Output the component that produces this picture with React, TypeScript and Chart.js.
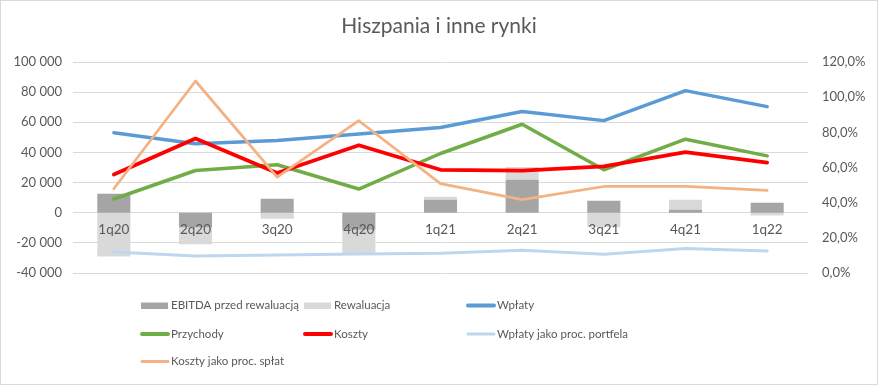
import { useEffect, useRef } from "react";
import { Chart, registerables } from "chart.js";

Chart.register(...registerables);

const categories = ["1q20", "2q20", "3q20", "4q20", "1q21", "2q21", "3q21", "4q21", "1q22"];
const ebitda = [12600, -9700, 9300, -11300, 8600, 21900, 7900, 2000, 6600];
const rewaluacja = [-29000, -11200, -4000, -15900, 2000, 8400, -9700, 6600, -1800];
const wplaty = [53000, 45700, 47900, 52300, 56500, 67100, 61100, 81000, 70400];
const przychody = [9100, 28000, 31800, 15700, 39300, 58700, 28500, 48800, 37700];
const koszty = [25400, 49200, 26300, 44800, 28500, 28000, 30700, 40200, 33300];
const wplatyProc = [11.9, 9.6, 10.2, 10.8, 11.3, 13.0, 10.6, 14.0, 12.5];
const kosztyProc = [47.9, 109.2, 54.5, 86.6, 50.8, 41.7, 49.2, 49.2, 47.0];

const leftTicks = { min: -40000, max: 100000, step: 20000 };
const rightTicks = { min: 0, max: 120, step: 20 };

const FONT = "Lato, 'Liberation Sans', sans-serif";
const TEXT = "#595959";

type LegendItem = { label: string; color: string; kind: "bar" | "line"; w: number; col: number; row: number };

const legendItems: LegendItem[] = [
  { label: "EBITDA przed rewaluacją", color: "#A5A5A5", kind: "bar", w: 6, col: 0, row: 0 },
  { label: "Rewaluacja", color: "#D9D9D9", kind: "bar", w: 6, col: 1, row: 0 },
  { label: "Wpłaty", color: "#5B9BD5", kind: "line", w: 4, col: 2, row: 0 },
  { label: "Przychody", color: "#70AD47", kind: "line", w: 4, col: 0, row: 1 },
  { label: "Koszty", color: "#FF0000", kind: "line", w: 4, col: 1, row: 1 },
  { label: "Wpłaty jako proc. portfela", color: "#BDD7EE", kind: "line", w: 3, col: 2, row: 1 },
  { label: "Koszty jako proc. spłat", color: "#F4B183", kind: "line", w: 3, col: 0, row: 2 },
];

function fmtThousands(v: number) {
  const s = Math.abs(v).toFixed(0).replace(/\B(?=(\d{3})+(?!\d))/g, " ");
  return (v < 0 ? "-" : "") + s;
}

const customPlugin = {
  id: "customDecor",
  afterDraw(chart: any) {
    const ctx = chart.ctx as CanvasRenderingContext2D;
    ctx.save();
    ctx.strokeStyle = "#D9D9D9";
    ctx.lineWidth = 1;
    ctx.strokeRect(0.5, 0.5, chart.width - 1, chart.height - 1);
    ctx.fillStyle = TEXT;
    ctx.font = `21px ${FONT}`;
    ctx.textAlign = "center";
    ctx.textBaseline = "middle";
    ctx.fillText("Hiszpania i inne rynki", 439, 26);
    const colX = [141, 304, 467];
    const rowY = [305.5, 334, 361.5];
    ctx.font = `11.5px ${FONT}`;
    ctx.textAlign = "left";
    for (const it of legendItems) {
      const x = colX[it.col];
      const y = rowY[it.row];
      if (it.kind === "bar") {
        ctx.fillStyle = it.color;
        ctx.fillRect(x, y - 3, 27, 6.5);
      } else {
        ctx.strokeStyle = it.color;
        ctx.lineWidth = it.w;
        ctx.lineCap = "round";
        ctx.beginPath();
        ctx.moveTo(x + 1, y);
        ctx.lineTo(x + 27, y);
        ctx.stroke();
      }
      ctx.fillStyle = TEXT;
      ctx.fillText(it.label, x + 30, y);
    }
    ctx.restore();
  },
};

export default function App() {
  const ref = useRef<HTMLCanvasElement | null>(null);
  useEffect(() => {
    document.body.style.margin = "0";
    const canvas = ref.current;
    if (!canvas) return;
    const lineDs = (label: string, data: number[], color: string, width: number, axis: string, order: number) => ({
      type: "line" as const,
      label,
      data,
      borderColor: color,
      backgroundColor: color,
      borderWidth: width,
      pointRadius: 0,
      pointHoverRadius: 0,
      tension: 0,
      fill: false,
      yAxisID: axis,
      order,
      borderCapStyle: "round" as const,
      borderJoinStyle: "round" as const,
    });
    const chart = new Chart(canvas, {
      type: "bar",
      data: {
        labels: categories,
        datasets: [
          {
            type: "bar",
            label: "EBITDA przed rewaluacją",
            data: ebitda,
            backgroundColor: "#A5A5A5",
            yAxisID: "yb",
            stack: "bars",
            order: 20,
            categoryPercentage: 1,
            barPercentage: 0.405,
          },
          {
            type: "bar",
            label: "Rewaluacja",
            data: rewaluacja,
            backgroundColor: "#D9D9D9",
            yAxisID: "yb",
            stack: "bars",
            order: 21,
            categoryPercentage: 1,
            barPercentage: 0.405,
          },
          lineDs("Wpłaty", wplaty, "#5B9BD5", 3.5, "y", 5),
          lineDs("Przychody", przychody, "#70AD47", 3.5, "y", 4),
          lineDs("Koszty", koszty, "#FF0000", 3.75, "y", 3),
          lineDs("Wpłaty jako proc. portfela", wplatyProc, "#BDD7EE", 3, "y1", 6),
          lineDs("Koszty jako proc. spłat", kosztyProc, "#F4B183", 2.75, "y1", 2),
        ] as any,
      },
      options: {
        responsive: false,
        animation: false,
        devicePixelRatio: 1,
        layout: { padding: { top: 62, bottom: 112, left: 0, right: 0 } },
        plugins: {
          legend: { display: false },
          title: { display: false },
          tooltip: { enabled: false },
        },
        scales: {
          x: {
            type: "category",
            stacked: true,
            position: { y: 0 } as any,
            offset: true,
            grid: { display: false, drawTicks: false },
            border: { display: false },
            ticks: {
              z: 1,
              color: TEXT,
              font: { family: FONT, size: 13.5 },
              padding: 9,
              maxRotation: 0,
              autoSkip: false,
            },
          },
          y: {
            type: "linear",
            position: "left",
            min: leftTicks.min,
            max: leftTicks.max,
            grid: { color: "#D9D9D9", lineWidth: 1, drawTicks: false },
            border: { display: false },
            ticks: {
              stepSize: leftTicks.step,
              color: TEXT,
              font: { family: FONT, size: 13 },
              padding: 11,
              callback: (v: any) => fmtThousands(Number(v)),
            },
            afterFit: (s: any) => {
              s.width = 73;
            },
          },
          yb: {
            type: "linear",
            display: false,
            stacked: true,
            min: leftTicks.min,
            max: leftTicks.max,
          },
          y1: {
            type: "linear",
            position: "right",
            min: rightTicks.min,
            max: rightTicks.max,
            grid: { display: false, drawTicks: false },
            border: { display: false },
            ticks: {
              stepSize: rightTicks.step,
              color: TEXT,
              font: { family: FONT, size: 13 },
              padding: 14,
              callback: (v: any) => Number(v).toFixed(1).replace(".", ",") + "%",
            },
            afterFit: (s: any) => {
              s.width = 70;
            },
          },
        },
      },
      plugins: [customPlugin],
    });
    return () => chart.destroy();
  }, []);
  return (
    <div style={{ width: 878, height: 385, background: "#fff" }}>
      <canvas ref={ref} width={878} height={385} style={{ display: "block" }} />
    </div>
  );
}
